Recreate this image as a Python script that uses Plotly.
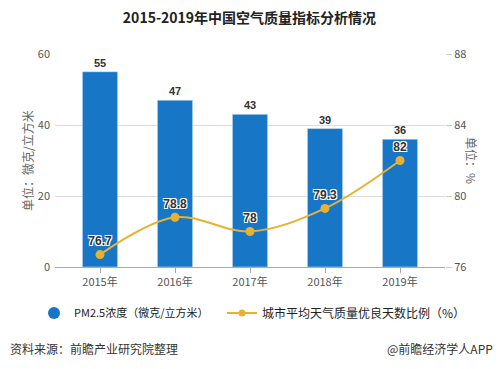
import plotly.graph_objects as go

years = ["2015年", "2016年", "2017年", "2018年", "2019年"]
pm25 = [55, 47, 43, 39, 36]
good_ratio = [76.7, 78.8, 78, 79.3, 82]
pm25_labels = ["55", "47", "43", "39", "36"]
ratio_labels = ["76.7", "78.8", "78", "79.3", "82"]

BLUE = "#1776c6"
GOLD = "#e8b231"
FONT = "Noto Sans CJK SC, Microsoft YaHei, sans-serif"

fig = go.Figure()
fig.add_trace(go.Bar(
    x=years, y=pm25, marker_color=BLUE, width=0.47,
    text=pm25_labels, textposition="outside", cliponaxis=False,
    textfont=dict(size=11, color="#333333", family="Liberation Sans, Arial", weight="bold"),
    showlegend=False, yaxis="y",
))
fig.add_trace(go.Scatter(
    x=years, y=good_ratio, yaxis="y2", mode="lines+markers+text",
    line=dict(color=GOLD, width=2, shape="spline", smoothing=1.0),
    marker=dict(color=GOLD, size=9),
    text=ratio_labels, textposition="top center", cliponaxis=False,
    textfont=dict(size=12, color="#333333", family="Liberation Sans, Arial", weight="bold",
                  shadow="1px 1px 0 #fff, -1px -1px 0 #fff, 1px -1px 0 #fff, -1px 1px 0 #fff"),
    showlegend=False,
))
# legend entries
fig.add_trace(go.Scatter(
    x=[None], y=[None], mode="markers", marker=dict(color=BLUE, size=12, symbol="circle"),
    name="PM2.5浓度（微克/立方米）", showlegend=True, legend="legend",
))
fig.add_trace(go.Scatter(
    x=[None], y=[None], mode="lines+markers", yaxis="y2",
    line=dict(color=GOLD, width=2), marker=dict(color=GOLD, size=7),
    name="城市平均天气质量优良天数比例（%）", showlegend=True, legend="legend2",
))

leg_y = 1 - 313 / 369
fig.update_layout(
    width=499, height=369,
    margin=dict(l=55, r=54, t=54, b=102, autoexpand=False),
    paper_bgcolor="white", plot_bgcolor="white",
    font=dict(family=FONT, size=11, color="#555555"),
    title=dict(text="<b>2015-2019年中国空气质量指标分析情况</b>", x=0.5, xanchor="center",
               y=1 - 18 / 369, yanchor="middle",
               font=dict(size=14, color="#222222", family=FONT)),
    xaxis=dict(range=[-0.6, 4.6], showgrid=False, showline=True, linecolor="#aaaaaa",
               ticks="outside", ticklen=5, tickcolor="#aaaaaa", automargin=False,
               tickfont=dict(size=11, color="#555555", family=FONT)),
    yaxis=dict(range=[0, 60], dtick=20, showgrid=True, gridcolor="#dddddd", zeroline=False,
               showline=False, tickfont=dict(size=11, color="#555555"), ticklabelstandoff=4,
               automargin=False),
    yaxis2=dict(range=[76, 88], dtick=4, overlaying="y", side="right", showgrid=False,
                zeroline=False, showline=False, ticks="outside", ticklen=6, tickcolor="#cccccc",
                tickfont=dict(size=11, color="#555555"), automargin=False),
    legend=dict(orientation="h", xref="container", yref="container", x=34 / 499,
                xanchor="left", y=leg_y, yanchor="middle",
                font=dict(size=11, color="#222222", family=FONT), itemwidth=30,
                bgcolor="rgba(0,0,0,0)"),
    legend2=dict(orientation="h", xref="container", yref="container", x=222 / 499,
                 xanchor="left", y=leg_y, yanchor="middle",
                 font=dict(size=12, color="#222222", family=FONT), itemwidth=30,
                 bgcolor="rgba(0,0,0,0)"),
    bargap=0.5,
    annotations=[
        dict(text="单位：微克/立方米", xref="paper", yref="paper", x=-38 / 390, y=0.5,
             textangle=-90, showarrow=False, font=dict(size=12, color="#666666", family=FONT)),
        dict(text="单位：%", xref="paper", yref="paper", x=1 + 37 / 390, y=0.5,
             textangle=90, showarrow=False, font=dict(size=12, color="#666666", family=FONT)),
        dict(text="资料来源：前瞻产业研究院整理", xref="paper", yref="paper",
             x=-47 / 390, xanchor="left", y=(267 - 348) / 213, yanchor="middle",
             showarrow=False, font=dict(size=12, color="#333333", family=FONT)),
        dict(text="@前瞻经济学人APP", xref="paper", yref="paper",
             x=1 + 50 / 390, xanchor="right", y=(267 - 348) / 213, yanchor="middle",
             showarrow=False, font=dict(size=12, color="#333333", family=FONT)),
    ],
)

fig.write_html("out.html", config={"displayModeBar": False},
               post_script="document.body.style.margin='0';document.body.style.overflow='hidden';")
